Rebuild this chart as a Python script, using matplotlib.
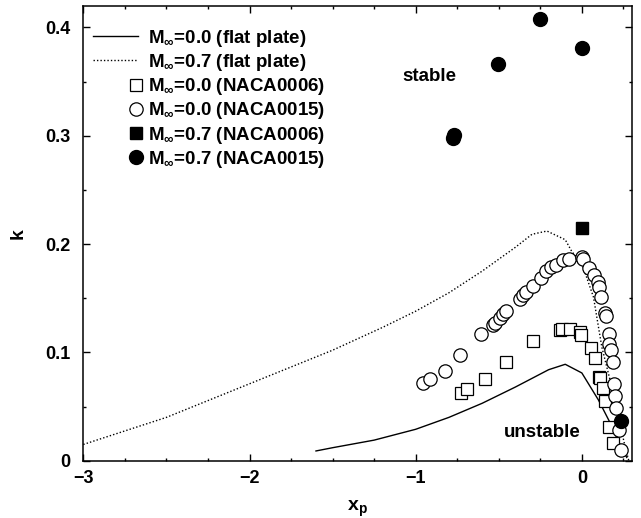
import numpy as np
import matplotlib
matplotlib.use("Agg")
import matplotlib.pyplot as plt
from matplotlib.legend_handler import HandlerLine2DCompound

plt.rcParams['font.family'] = ['Liberation Sans', 'DejaVu Sans']
plt.rcParams['font.weight'] = 'bold'
plt.rcParams['axes.labelweight'] = 'bold'
plt.rcParams['mathtext.fontset'] = 'custom'
plt.rcParams['mathtext.rm'] = 'Liberation Sans:bold'
plt.rcParams['mathtext.bf'] = 'Liberation Sans:bold'
plt.rcParams['mathtext.it'] = 'Liberation Sans:bold'
plt.rcParams['mathtext.default'] = 'bf'

# flat plate, M=0.0 (solid)
fp0_x = [-1.6, -1.5, -1.25, -1.0, -0.8, -0.6, -0.4, -0.2, -0.1, 0.0, 0.1, 0.17, 0.22, 0.27]
fp0_k = [0.009, 0.012, 0.019, 0.029, 0.040, 0.053, 0.068, 0.084, 0.089, 0.081, 0.056, 0.035, 0.018, 0.003]

# flat plate, M=0.7 (dotted)
fp7_x = [-3.0, -2.5, -2.0, -1.5, -1.2, -1.0, -0.8, -0.6, -0.4, -0.3, -0.21, -0.1, -0.06, 0.0, 0.07, 0.12, 0.19, 0.26, 0.3]
fp7_k = [0.015, 0.040, 0.071, 0.102, 0.123, 0.138, 0.155, 0.175, 0.197, 0.209, 0.212, 0.204, 0.193, 0.182, 0.151, 0.105, 0.062, 0.013, -0.01]

# NACA0006, M=0.0 (open squares)
n6_0_x = [-0.725, -0.691, -0.585, -0.459, -0.294, -0.134, -0.118, -0.074, -0.014, -0.004,
          0.056, 0.080, 0.106, 0.108, 0.126, 0.142, 0.166, 0.186]
n6_0_k = [0.0624, 0.066, 0.0756, 0.0915, 0.1106, 0.1207, 0.1214, 0.1217, 0.119, 0.116,
          0.104, 0.0946, 0.0777, 0.076, 0.067, 0.0547, 0.031, 0.016]

# NACA0015, M=0.0 (open circles)
n15_0_x = [-0.955, -0.916, -0.826, -0.735, -0.605, -0.535, -0.525, -0.495, -0.473, -0.455,
           -0.375, -0.353, -0.334, -0.294, -0.244, -0.214, -0.184, -0.154, -0.114, -0.078,
           0.0, 0.006, 0.046, 0.076, 0.096, 0.106, 0.116, 0.142, 0.145, 0.162, 0.166, 0.177,
           0.186, 0.196, 0.202, 0.207, 0.222, 0.237]
n15_0_k = [0.0716, 0.0753, 0.083, 0.0977, 0.1168, 0.125, 0.1275, 0.1315, 0.1355, 0.1385,
           0.149, 0.153, 0.156, 0.161, 0.169, 0.175, 0.1785, 0.1806, 0.185, 0.186,
           0.1877, 0.186, 0.1776, 0.1714, 0.165, 0.1606, 0.151, 0.136, 0.134, 0.117, 0.108, 0.102,
           0.0915, 0.071, 0.060, 0.0486, 0.0286, 0.010]

# NACA0006, M=0.7 (filled square)
n6_7_x = [0.0]
n6_7_k = [0.215]

# NACA0015, M=0.7 (filled circles)
n15_7_x = [-0.775, -0.77, -0.505, -0.25, 0.0, 0.237]
n15_7_k = [0.298, 0.301, 0.3665, 0.408, 0.381, 0.037]


# gnuplot-style key: marker sits at the right end of the sample line
class RightMarker(HandlerLine2DCompound):
    def get_xdata(self, legend, xdescent, ydescent, width, height, fontsize):
        xdata = [-xdescent, -xdescent + width]
        xmark = [-xdescent + width - 0.1 * fontsize]
        return xdata, xmark


fig = plt.figure(figsize=(6.41, 5.18), dpi=100)
ax = fig.add_axes([0.130, 0.1106, 0.8555, 0.8784])

ax.plot(fp0_x, fp0_k, color='black', lw=1.0, label=r'M$_{\infty}$=0.0 (flat plate)')
ax.plot(fp7_x, fp7_k, color='black', lw=1.0, linestyle=(0, (1, 1.5)),
        label=r'M$_{\infty}$=0.7 (flat plate)')
ax.plot(n6_0_x, n6_0_k, 's', ms=8, mfc='white', mec='black', mew=0.9,
        label=r'M$_{\infty}$=0.0 (NACA0006)')
ax.plot(n15_0_x, n15_0_k, 'o', ms=9.6, mfc='white', mec='black', mew=0.9,
        label=r'M$_{\infty}$=0.0 (NACA0015)')
ax.plot(n6_7_x, n6_7_k, 's', ms=8, color='black', label=r'M$_{\infty}$=0.7 (NACA0006)')
ax.plot(n15_7_x, n15_7_k, 'o', ms=10, color='black', label=r'M$_{\infty}$=0.7 (NACA0015)')

ax.set_xlim(-3, 0.3)
ax.set_ylim(0, 0.42)
ax.set_xticks([-3, -2, -1, 0])
ax.set_xticklabels(['\u22123', '\u22122', '\u22121', '0'])
ax.set_yticks([0, 0.1, 0.2, 0.3, 0.4])
ax.set_yticklabels(['0', '0.1', '0.2', '0.3', '0.4'])
ax.set_xticks(np.arange(-3, 0.31, 0.25), minor=True)
ax.set_yticks(np.arange(0, 0.42, 0.05), minor=True)
ax.tick_params(which='both', direction='in', top=True, right=True, labelsize=13)
ax.tick_params(which='major', length=5, width=1)
ax.tick_params(which='minor', length=2.5, width=1)
ax.tick_params(axis='x', which='major', pad=7)
ax.tick_params(axis='y', which='major', pad=9)
for s in ax.spines.values():
    s.set_linewidth(1.1)

ax.set_xlabel(r'x$_\mathrm{p}$', fontsize=14, fontweight='bold', labelpad=8)
ax.set_ylabel('k', fontsize=14, fontweight='bold', labelpad=14)

ax.text(-0.915, 0.355, 'stable', fontsize=13.5, ha='center', va='center')
ax.text(-0.24, 0.026, 'unstable', fontsize=13.5, ha='center', va='center')

ax.legend(loc='upper left', bbox_to_anchor=(0, 0.972), frameon=False, fontsize=13.5,
          handlelength=2.4, handletextpad=0.55, labelspacing=0.17, borderaxespad=0.1,
          handler_map={plt.Line2D: RightMarker()})

fig.savefig('out.png', dpi=100)
